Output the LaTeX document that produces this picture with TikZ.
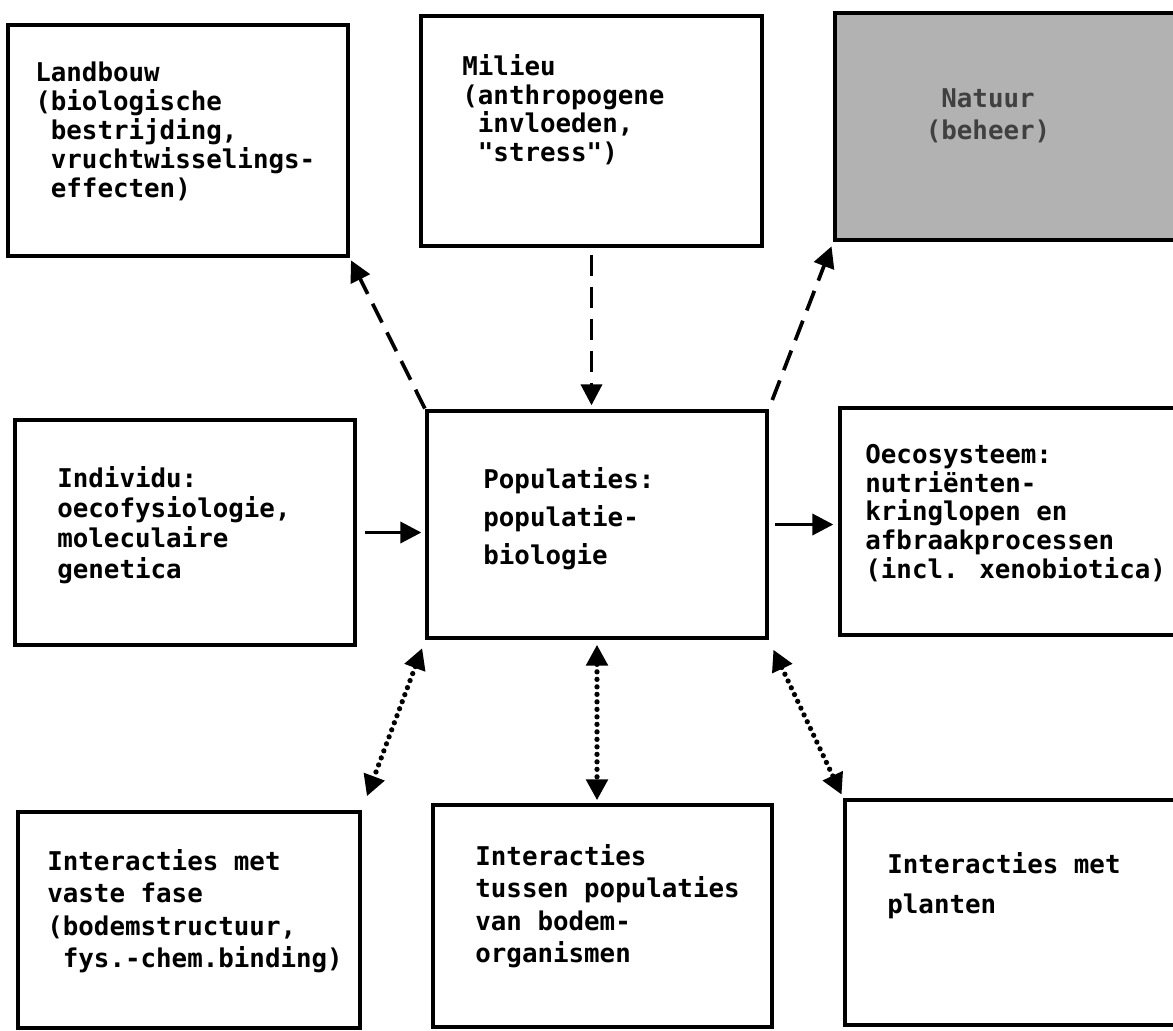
\documentclass[tikz,border=0pt]{standalone}
\usepackage{fontspec}
\newfontfamily\boxmono{DejaVu Sans Mono}
\usetikzlibrary{arrows.meta,fit}

\begin{document}
\begin{tikzpicture}[x=0.02cm, y=-0.02cm,
    field/.style={draw, line width=1.9pt, inner sep=0pt},
    boxtext/.style={anchor=north west, inner sep=0pt, align=left,
      font=\boxmono\bfseries\fontsize{14.7pt}{#1}\selectfont},
    flow/.style={line width=2.1pt, -{Triangle[length=0.42cm, width=0.42cm]}},
    dashflow/.style={flow, dash pattern=on 0.42cm off 0.22cm},
    dotflow/.style={line width=3pt, line cap=round, dash pattern=on 0pt off 0.15cm,
      {Triangle[length=0.42cm, width=0.42cm]}-{Triangle[length=0.42cm, width=0.42cm]}}]

    \useasboundingbox (0,0) rectangle (1173,1031);

    % boxes
    \node[field, fit={(8,25) (348,256)}] (landbouw) {};
    \node[field, fit={(421,16) (762,246)}] (milieu) {};
    \node[field, fill=black!30, fit={(835,13) (1176,240)}] (natuur) {};
    \node[field, fit={(15,420) (355,645)}] (individu) {};
    \node[field, fit={(427,411) (767,638)}] (populaties) {};
    \node[field, fit={(840,408) (1180,635)}] (oecosysteem) {};
    \node[field, fit={(18,812) (360,1028)}] (vaste) {};
    \node[field, fit={(433,805) (772,1027)}] (tussen) {};
    \node[field, fit={(845,800) (1180,1025)}] (planten) {};

    % texts
    \node[boxtext=16.4pt] at (35,62) (landbouwtxt) {Landbouw\\(biologische\\\phantom{(}bestrijding,\\\phantom{(}vruchtwisselings-\\\phantom{(}effecten)};
    \node[boxtext=16.4pt] at (462,54) (milieutxt) {Milieu\\(anthropogene\\\phantom{(}invloeden,\\\phantom{(}"stress")};
    \node[boxtext=18.4pt, anchor=north, align=center, text=black!75] at (988,88) (natuurtxt) {Natuur\\(beheer)};
    \node[boxtext=17.2pt] at (57,466) (individutxt) {Individu:\\oecofysiologie,\\moleculaire\\genetica};
    \node[boxtext=21.6pt] at (483,467) (populatiestxt) {Populaties:\\populatie-\\biologie};
    \node[boxtext=16.3pt] at (865,444) (oecosysteemtxt) {Oecosysteem:\\nutriënten-\\kringlopen en\\afbraakprocessen\\(incl. xenobiotica)};
    \node[boxtext=18.4pt] at (47,849) (vastetxt) {Interacties met\\vaste fase\\(bodemstructuur,\\\phantom{(}fys.-chem.binding)};
    \node[boxtext=18.4pt] at (475,844) (tussentxt) {Interacties\\tussen populaties\\van bodem-\\organismen};
    \node[boxtext=22.8pt] at (887,852) (plantentxt) {Interacties met\\planten};

    % connectors
    \draw[flow, shorten <=0.16cm, shorten >=0.08cm] (individu.east) -- (individu.east -| populaties.west);
    \draw[flow, shorten <=0.12cm, shorten >=0.1cm] (populaties.east) -- (populaties.east -| oecosysteem.west);
    \draw[dashflow, shorten <=0.14cm, shorten >=0.08cm] (milieu.south) -- (milieu.south |- populaties.north);
    \draw[dashflow, shorten <=0.02cm, shorten >=0.06cm] (populaties.north west) -- (landbouw.south east);
    \draw[dashflow, shorten <=0.2cm, shorten >=0.1cm] (populaties.north east) -- (natuur.south west);
    \draw[dotflow, shorten <=0.18cm, shorten >=0.3cm] (populaties.south west) -- (vaste.north east);
    \draw[dotflow, shorten <=0.1cm, shorten >=0.06cm] (populaties.south) -- (populaties.south |- tussen.north);
    \draw[dotflow, shorten <=0.22cm, shorten >=0.08cm] (populaties.south east) -- (planten.north west);

\end{tikzpicture}
\end{document}
